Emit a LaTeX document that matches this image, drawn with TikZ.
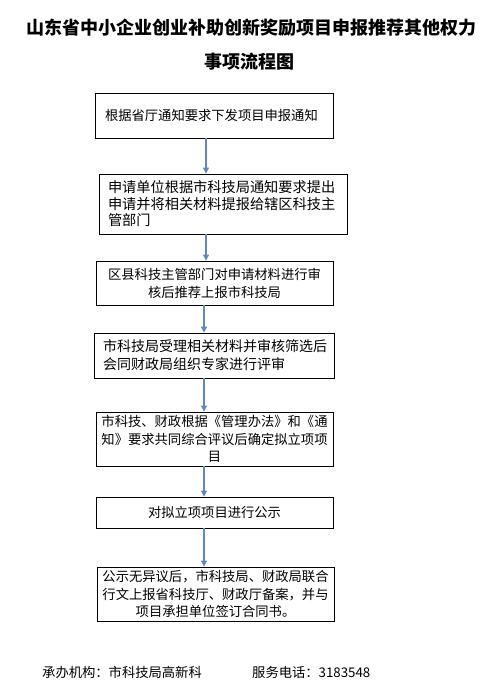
\documentclass[tikz,border=0pt]{standalone}
\usepackage{fontspec}
\setmainfont{Noto Sans CJK SC}
\usetikzlibrary{arrows.meta}
\definecolor{arrowblue}{RGB}{96,138,190}
\begin{document}
\begin{tikzpicture}[x=1pt,y=-1pt,
  flowbox/.style={draw=black,line width=0.8pt,rectangle,inner xsep=6pt,inner ysep=0pt,
    font=\fontsize{13.3}{17.5}\selectfont},
  arr/.style={draw=arrowblue,line width=1.2pt,-{Triangle[length=6pt,width=6pt]}},
  titlefont/.style={font=\fontsize{18}{22}\selectfont\bfseries},
  footfont/.style={font=\fontsize{13.3}{16}\selectfont}]
\useasboundingbox (0,0) rectangle (499,696);
% title
\node[titlefont] (t1) at (251,28) {山东省中小企业创业补助创新奖励项目申报推荐其他权力};
\node[titlefont] (t2) at (249,62) {事项流程图};
% boxes
\node[flowbox,inner xsep=10pt,text width=218pt,minimum height=45pt,align=left] (b1) at (214,115.5)
  {根据省厅通知要求下发项目申报通知};
\node[flowbox,inner xsep=9pt,text width=230pt,minimum height=60pt,align=left,
  font=\fontsize{14.2}{16.5}\selectfont] (b2) at (223,204)
  {申请单位根据市科技局通知要求提出\\申请并将相关材料提报给辖区科技主\\管部门};
\node[flowbox,text width=225pt,minimum height=44pt,align=center,
  font=\fontsize{13.3}{18}\selectfont] (b3) at (214.5,283)
  {区县科技主管部门对申请材料进行审\\核后推荐上报市科技局};
\node[flowbox,inner xsep=9pt,text width=222pt,minimum height=45pt,align=left,
  font=\fontsize{14}{18}\selectfont] (b4) at (214,355.5)
  {市科技局受理相关材料并审核筛选后\\会同财政局组织专家进行评审};
\node[flowbox,inner xsep=4pt,text width=229pt,minimum height=54pt,align=center] (b5) at (214.5,439)
  {市科技、财政根据《管理办法》和《通\\知》要求共同综合评议后确定拟立项项\\目};
\node[flowbox,text width=225pt,minimum height=31pt,align=center] (b6) at (214.5,512.5)
  {对拟立项项目进行公示};
\node[flowbox,inner xsep=4pt,text width=229pt,minimum height=54pt,align=center] (b7) at (215.5,594)
  {公示无异议后，市科技局、财政局联合\\行文上报省科技厅、财政厅备案，并与\\项目承担单位签订合同书。};
% arrows
\coordinate (ax1) at (206,0);
\coordinate (ax2) at (204,0);
\draw[arr] (b1.south -| ax1) -- (b2.north -| ax1);
\draw[arr] (b2.south -| ax1) -- (b3.north -| ax1);
\draw[arr] (b3.south -| ax2) -- (b4.north -| ax2);
\draw[arr] (b4.south -| ax2) -- (b5.north -| ax2);
\draw[arr] (b5.south -| ax2) -- (b6.north -| ax2);
\draw[arr] (b6.south -| ax2) -- (b7.north -| ax2);
% footer
\node[footfont,anchor=west,inner sep=0pt] (f1) at (42,672) {承办机构：市科技局高新科};
\node[footfont,anchor=west,inner sep=0pt] (f2) at (252,672) {服务电话：3183548};
\end{tikzpicture}
\end{document}
